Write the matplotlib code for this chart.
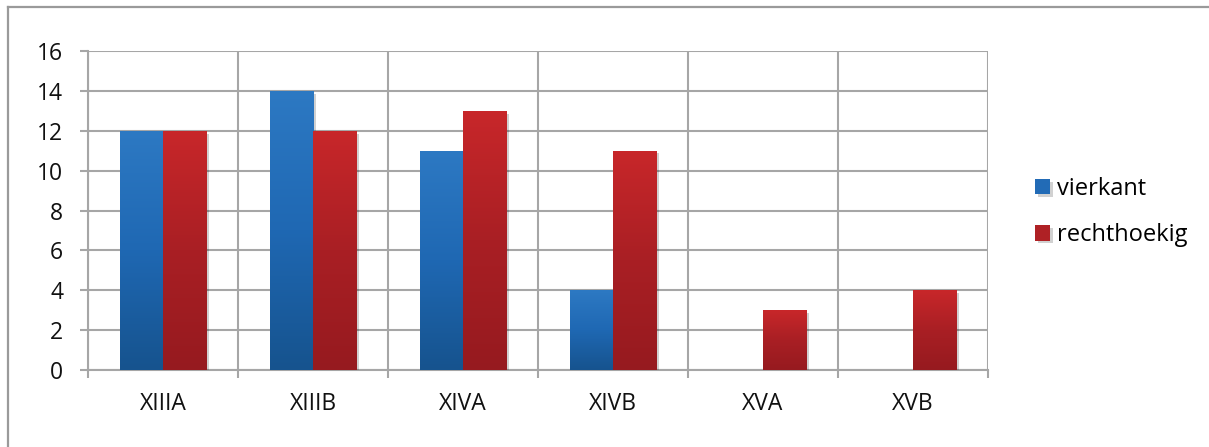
import numpy as np
import matplotlib
matplotlib.use("Agg")
import matplotlib.pyplot as plt
from matplotlib.colors import LinearSegmentedColormap
from matplotlib import patheffects as pe

categories = ["XIIIA", "XIIIB", "XIVA", "XIVB", "XVA", "XVB"]
vierkant = [12, 14, 11, 4, 0, 0]
rechthoekig = [12, 12, 13, 11, 3, 4]
series_names = ["vierkant", "rechthoekig"]

plt.rcParams["font.family"] = ["Open Sans", "DejaVu Sans"]

W, H = 1209, 447
fig = plt.figure(figsize=(W / 100, H / 100), dpi=100)
fig.patch.set_facecolor("white")

# outer chart frame
frame_col = "#9a9a9a"
fig.add_artist(plt.Line2D([8 / W, 8 / W], [0, 1 - 7 / H], color=frame_col, lw=1.6,
                          transform=fig.transFigure))
fig.add_artist(plt.Line2D([8 / W, 1], [1 - 7 / H, 1 - 7 / H], color=frame_col, lw=1.6,
                          transform=fig.transFigure))

ax = fig.add_axes([88 / W, 1 - 370 / H, 900 / W, 319 / H])
grid_col = "#a6a6a6"

x = np.arange(len(categories))
bw = 0.287
blue_cmap = LinearSegmentedColormap.from_list("b", ["#16538e", "#1f68b3", "#2d79c3"])
red_cmap = LinearSegmentedColormap.from_list("r", ["#961a1f", "#a91f24", "#c8272a"])

grad = np.linspace(0, 1, 256).reshape(-1, 1)


def gradient_bars(xs, vals, cmap, label):
    bars = ax.bar(xs, vals, width=bw, color=cmap(0.6), label=label, zorder=3,
                  linewidth=0,
                  path_effects=[pe.SimplePatchShadow(offset=(2, -2), alpha=0.18,
                                                     shadow_rgbFace="#000000"),
                                pe.Normal()])
    for b in bars:
        h = b.get_height()
        if h <= 0:
            continue
        x0 = b.get_x()
        im = ax.imshow(grad, cmap=cmap, aspect="auto", origin="lower",
                       extent=[x0, x0 + b.get_width(), 0, h], zorder=4,
                       interpolation="bicubic")
        im.set_clip_path(b)
    return bars


gradient_bars(x - bw / 2, vierkant, blue_cmap, series_names[0])
gradient_bars(x + bw / 2, rechthoekig, red_cmap, series_names[1])

ax.set_xlim(-0.5, len(categories) - 0.5)
ax.set_ylim(0, 16)
ax.set_yticks(np.arange(0, 17, 2))
ax.set_xticks(x)
ax.set_xticklabels(categories)
ax.set_xticks(np.arange(-0.5, len(categories), 1.0), minor=True)

ax.grid(axis="y", which="major", color=grid_col, lw=1.5, zorder=0)
ax.grid(axis="x", which="minor", color=grid_col, lw=1.5, zorder=0)
ax.grid(axis="x", which="major", visible=False)

for s in ["top", "right"]:
    ax.spines[s].set_visible(False)
for s in ["left", "bottom"]:
    ax.spines[s].set_color(grid_col)
    ax.spines[s].set_linewidth(1.5)

ax.tick_params(axis="y", which="major", length=5.8, width=1.5, color=grid_col,
               pad=12, labelsize=16.5, labelcolor="#111111")
ax.tick_params(axis="x", which="major", length=0, pad=16, labelsize=16.5,
               labelcolor="#111111")
ax.tick_params(axis="x", which="minor", length=5.8, width=1.5, color=grid_col)
ax.set_facecolor("white")
ax.set_axisbelow(True)

leg = ax.legend(loc="center left", bbox_to_anchor=(1.042, 0.495), frameon=False,
                fontsize=17, handlelength=0.62, handleheight=0.62,
                handletextpad=0.3, labelspacing=0.95, borderaxespad=0)

fig.savefig("out.png", dpi=100, facecolor="white")
